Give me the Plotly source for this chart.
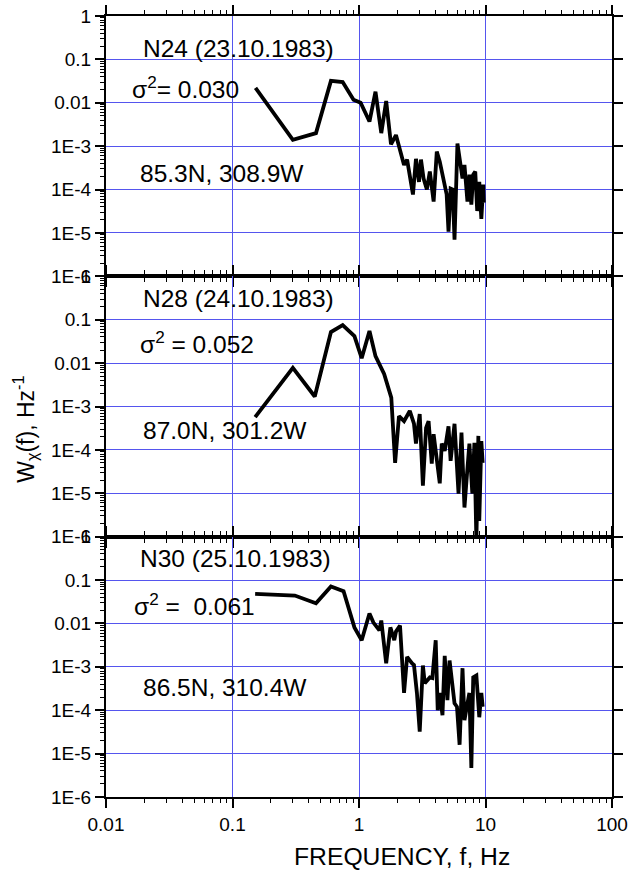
import plotly.graph_objects as go

# ---------------- data ----------------
f1 = [0.152, 0.30, 0.457, 0.60, 0.743, 0.905, 1.03, 1.21, 1.35, 1.50, 1.64, 1.79, 1.96,
      2.11, 2.27, 2.40, 2.67, 2.82, 2.98, 3.09, 3.24, 3.44, 3.63, 3.89, 4.12, 4.35, 4.67,
      4.93, 5.10, 5.30, 5.50, 5.69, 6.00, 6.24, 6.58, 6.82, 7.20, 7.46, 7.73, 8.00, 8.30,
      8.60, 8.93, 9.27, 9.60, 9.70]
w1 = [0.022, 1.4e-3, 2.0e-3, 0.032, 0.030, 0.0117, 0.010, 3.7e-3, 0.018, 2.0e-3, 0.011,
      1.1e-3, 1.8e-3, 8.7e-4, 3.7e-4, 4.9e-4, 7.7e-5, 5.1e-4, 1.5e-4, 4.9e-4, 1.8e-4,
      1.0e-4, 2.6e-4, 5.3e-5, 7.5e-4, 4.4e-4, 1.5e-4, 7.7e-5, 1.07e-5, 1.05e-4, 1.0e-4,
      7e-6, 1.15e-3, 4.4e-4, 1.8e-4, 3.7e-4, 5.3e-5, 2.2e-4, 4.5e-5, 2.2e-4, 2.6e-4,
      3.2e-5, 1.5e-4, 2.1e-5, 1.3e-4, 5e-5]

f2 = [0.151, 0.30, 0.447, 0.60, 0.743, 0.92, 1.05, 1.21, 1.35, 1.58, 1.80, 1.93, 2.07,
      2.27, 2.52, 2.72, 2.82, 3.02, 3.20, 3.39, 3.55, 3.76, 3.89, 4.12, 4.35, 4.51, 4.76,
      5.10, 5.30, 5.69, 5.90, 6.12, 6.46, 6.82, 7.07, 7.46, 7.87, 8.17, 8.47, 8.78, 8.93,
      9.27, 9.50]
w2 = [5.7e-4, 7.8e-3, 1.7e-3, 0.052, 0.075, 0.042, 0.013, 0.055, 0.0145, 5.6e-3, 1.6e-3,
      5e-5, 6e-4, 4.6e-4, 7.9e-4, 4e-4, 1.4e-4, 6.7e-4, 1.5e-5, 3.2e-4, 4.6e-4, 4.8e-5,
      2.3e-4, 6.6e-5, 1.7e-5, 1.4e-4, 9.5e-5, 3.5e-4, 5.6e-5, 4e-4, 3.9e-5, 9.8e-6,
      2.5e-4, 4.7e-6, 1.9e-5, 1.4e-4, 9.8e-6, 1.45e-4, 8e-7, 2.1e-4, 2.3e-6, 1.6e-4, 5e-5]

f3 = [0.151, 0.311, 0.457, 0.60, 0.755, 0.92, 1.05, 1.21, 1.30, 1.45, 1.50, 1.64, 1.77,
      1.90, 1.96, 2.11, 2.27, 2.40, 2.63, 2.72, 2.87, 3.02, 3.20, 3.31, 3.63, 3.80, 4.04,
      4.19, 4.35, 4.57, 4.76, 5.00, 5.20, 5.50, 5.69, 5.95, 6.24, 6.58, 6.82, 7.20, 7.46,
      7.73, 8.00, 8.47, 8.93, 9.27, 9.50]
w3 = [0.048, 0.044, 0.029, 0.071, 0.055, 8.1e-3, 4.1e-3, 0.017, 0.0105, 6.9e-3, 0.0117,
      1.2e-3, 8.1e-3, 4.1e-3, 6.5e-3, 8.9e-3, 2.5e-4, 1.7e-3, 1.2e-3, 1.1e-3, 2.5e-4,
      3.2e-5, 1.07e-3, 4.2e-4, 5.7e-4, 5.5e-4, 4.1e-3, 1.0e-4, 2.5e-4, 7.7e-5, 1.8e-3,
      1.7e-4, 1.4e-3, 3.4e-4, 1.45e-4, 1.2e-4, 1.6e-5, 9.3e-4, 5.9e-5, 1.45e-4, 2.5e-4,
      4.7e-6, 5.7e-4, 6.3e-4, 6.9e-5, 2.5e-4, 1.2e-4]

panel_titles = ["N24 (23.10.1983)", "N28 (24.10.1983)", "N30 (25.10.1983)"]
sigma_texts = ["σ<sup>2</sup>= 0.030", "σ<sup>2</sup> = 0.052", "σ<sup>2</sup> =\u00a0\u00a00.061"]
coord_texts = ["85.3N, 308.9W", "87.0N, 301.2W", "86.5N, 310.4W"]

x_tickvals = [0.01, 0.1, 1, 10, 100]
x_ticktext = ["0.01", "0.1", "1", "10", "100"]
y_tickvals = [1e-6, 1e-5, 1e-4, 1e-3, 0.01, 0.1, 1]
y_ticktext = ["1E-6", "1E-5", "1E-4", "1E-3", "0.01", "0.1", "1"]
x_decades = [-2, -1, 0, 1]
y_decades = [-6, -5, -4, -3, -2, -1]
minor_digits = [2, 3, 4, 5, 6, 7, 8, 9]

x_minor = [d * 10.0 ** e for e in x_decades for d in minor_digits]
y_minor = [d * 10.0 ** e for e in y_decades for d in minor_digits]

# ---------------- layout geometry ----------------
W, H = 633, 872
TICK = 9
ML, MR, MT, MB = 106, 11, 14 - TICK, 75
PW = W - ML - 16
PH = 783  # plot-area height in px (top 14 .. bottom 797)

FONT = "Liberation Sans, Arial, sans-serif"
GRID = "#5555ee"
ANN_SIZE = 24.5

def px_x(px):
    return (px - ML) / PW

def px_y(py):
    return (H - MB - py) / PH

fig = go.Figure()
series = [(f1, w1), (f2, w2), (f3, w3)]
for i, (f, w) in enumerate(series):
    fig.add_trace(go.Scatter(
        x=f, y=w, mode="lines",
        line=dict(color="black", width=3.8),
        xaxis="x" if i == 0 else f"x{i+1}",
        yaxis="y" if i == 0 else f"y{i+1}",
        showlegend=False, hoverinfo="skip"))
# empty traces that only register the minor-tick overlay axes
for i in range(3):
    fig.add_trace(go.Scatter(x=[], y=[], mode="lines", xaxis=f"x{i+4}", yaxis=f"y{i+4}",
                             showlegend=False, hoverinfo="skip"))

common_x = dict(type="log", range=[-2, 2], tickmode="array", tickvals=x_tickvals,
                ticktext=x_ticktext, showgrid=True, gridcolor=GRID, gridwidth=1,
                showline=True, linecolor="black", linewidth=2, mirror="ticks",
                ticks="outside", ticklen=TICK, tickwidth=1.6, tickcolor="black",
                tickfont=dict(family=FONT, size=19, color="black"), zeroline=False)
common_y = dict(type="log", range=[-6, 0], tickmode="array", tickvals=y_tickvals,
                ticktext=y_ticktext, showgrid=True, gridcolor=GRID, gridwidth=1,
                showline=True, linecolor="black", linewidth=2,
                ticks="outside", ticklen=TICK, tickwidth=1.6, tickcolor="black",
                tickfont=dict(family=FONT, size=19, color="black"), zeroline=False)
minor_x = dict(type="log", range=[-2, 2], tickmode="array", tickvals=x_minor,
               ticks="outside", ticklen=5, tickwidth=1.3, tickcolor="black",
               showticklabels=False, showgrid=False, showline=False, mirror="ticks",
               zeroline=False, side="bottom")
minor_y = dict(type="log", range=[-6, 0], tickmode="array", tickvals=y_minor,
               ticks="outside", ticklen=5, tickwidth=1, tickcolor="black",
               showticklabels=False, showgrid=False, showline=False,
               zeroline=False, side="left")

y_mirror = ["ticks", True, "allticks"]
domains = [[2/3, 1.0], [1/3, 2/3], [0.0, 1/3]]
layout = {}
for i in range(3):
    xn = "x" if i == 0 else f"x{i+1}"
    yn = "y" if i == 0 else f"y{i+1}"
    xa = dict(common_x)
    xa["anchor"] = yn
    xa["domain"] = [0, 1]
    xa["showticklabels"] = (i == 2)
    ya = dict(common_y)
    ya["anchor"] = xn
    ya["domain"] = domains[i]
    ya["mirror"] = y_mirror[i]
    layout["xaxis" if i == 0 else f"xaxis{i+1}"] = xa
    layout["yaxis" if i == 0 else f"yaxis{i+1}"] = ya

    mx = dict(minor_x)
    mx["overlaying"] = xn
    mx["anchor"] = f"y{i+4}"
    mx["domain"] = [0, 1]
    layout[f"xaxis{i+4}"] = mx
    my = dict(minor_y)
    my["overlaying"] = yn
    my["anchor"] = f"x{i+4}"
    my["domain"] = domains[i]
    layout[f"yaxis{i+4}"] = my

fig.update_layout(**layout)

ann = []
title_y = [47, 297, 558]
sigma_y = [86, 341, 604]
coord_y = [172, 430, 687]
title_x = [141, 141, 138]
sigma_x = [130, 138, 132]
coord_x = [138, 141, 141]
for i in range(3):
    for txt, xx, yy in ((panel_titles[i], title_x[i], title_y[i]),
                        (sigma_texts[i], sigma_x[i], sigma_y[i]),
                        (coord_texts[i], coord_x[i], coord_y[i])):
        ann.append(dict(text=txt, x=px_x(xx), y=px_y(yy),
                        xref="paper", yref="paper", xanchor="left", yanchor="middle",
                        showarrow=False, font=dict(family=FONT, size=ANN_SIZE, color="black")))

ann.append(dict(text="FREQUENCY, f, Hz", x=px_x(405), y=px_y(857),
                xref="paper", yref="paper", xanchor="center", yanchor="middle",
                showarrow=False, font=dict(family=FONT, size=24.7, color="black")))
ann.append(dict(text="W<sub>χ</sub>(f), Hz<sup>-1</sup>", x=px_x(24), y=px_y(428),
                xref="paper", yref="paper", xanchor="center", yanchor="middle",
                textangle=-90, showarrow=False,
                font=dict(family=FONT, size=23, color="black")))

fig.update_layout(width=W, height=H, margin=dict(l=ML, r=MR, t=MT, b=MB),
                  paper_bgcolor="white", plot_bgcolor="white", annotations=ann,
                  showlegend=False)

fig.write_html("out.html")
